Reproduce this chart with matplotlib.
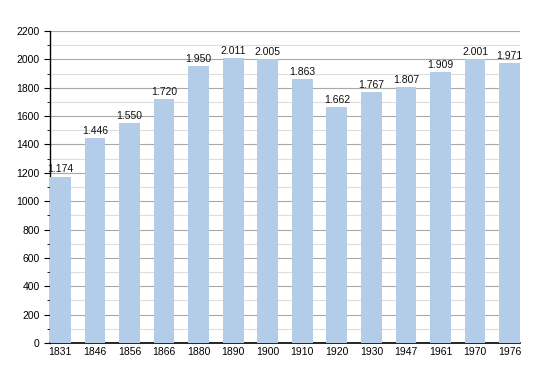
import matplotlib
matplotlib.use("Agg")
import matplotlib.pyplot as plt
from matplotlib.ticker import MultipleLocator

years = ["1831", "1846", "1856", "1866", "1880", "1890", "1900", "1910", "1920", "1930", "1947", "1961", "1970", "1976"]
population = [1174, 1446, 1550, 1720, 1950, 2011, 2005, 1863, 1662, 1767, 1807, 1909, 2001, 1971]
labels = ["1.174", "1.446", "1.550", "1.720", "1.950", "2.011", "2.005", "1.863", "1.662", "1.767", "1.807", "1.909", "2.001", "1.971"]

plt.rcParams['font.family'] = ['Liberation Sans', 'DejaVu Sans']

fig = plt.figure(figsize=(5.5, 3.73), dpi=100)
ax = fig.add_axes([50/550, 1-343/373, 470/550, 312/373])

x = range(len(years))
ax.bar(x, population, width=0.6, color='#b3cde8', zorder=3)
for i, (v, l) in enumerate(zip(population, labels)):
    ax.text(i, v + 15, l, ha='center', va='bottom', fontsize=7.5, color='#111111', zorder=4)

ax.set_xlim(-0.3, 13.3)
ax.set_ylim(0, 2200)
ax.set_xticks(list(x))
ax.set_xticklabels(years)
ax.yaxis.set_major_locator(MultipleLocator(200))
ax.yaxis.set_minor_locator(MultipleLocator(100))
ax.grid(axis='y', which='major', color='#a8a8a8', linewidth=0.8, zorder=1)
ax.grid(axis='y', which='minor', color='#dddddd', linewidth=0.8, zorder=1)
ax.tick_params(axis='y', which='major', length=4, labelsize=7.5, direction='out')
ax.tick_params(axis='y', which='minor', length=2, direction='out')
ax.tick_params(axis='x', length=0, labelsize=7.5, pad=3)
for s in ['top', 'right']:
    ax.spines[s].set_visible(False)
ax.spines['left'].set_linewidth(1.0)
ax.spines['bottom'].set_linewidth(1.2)
ax.set_axisbelow(True)

fig.savefig("out.png", dpi=100)
